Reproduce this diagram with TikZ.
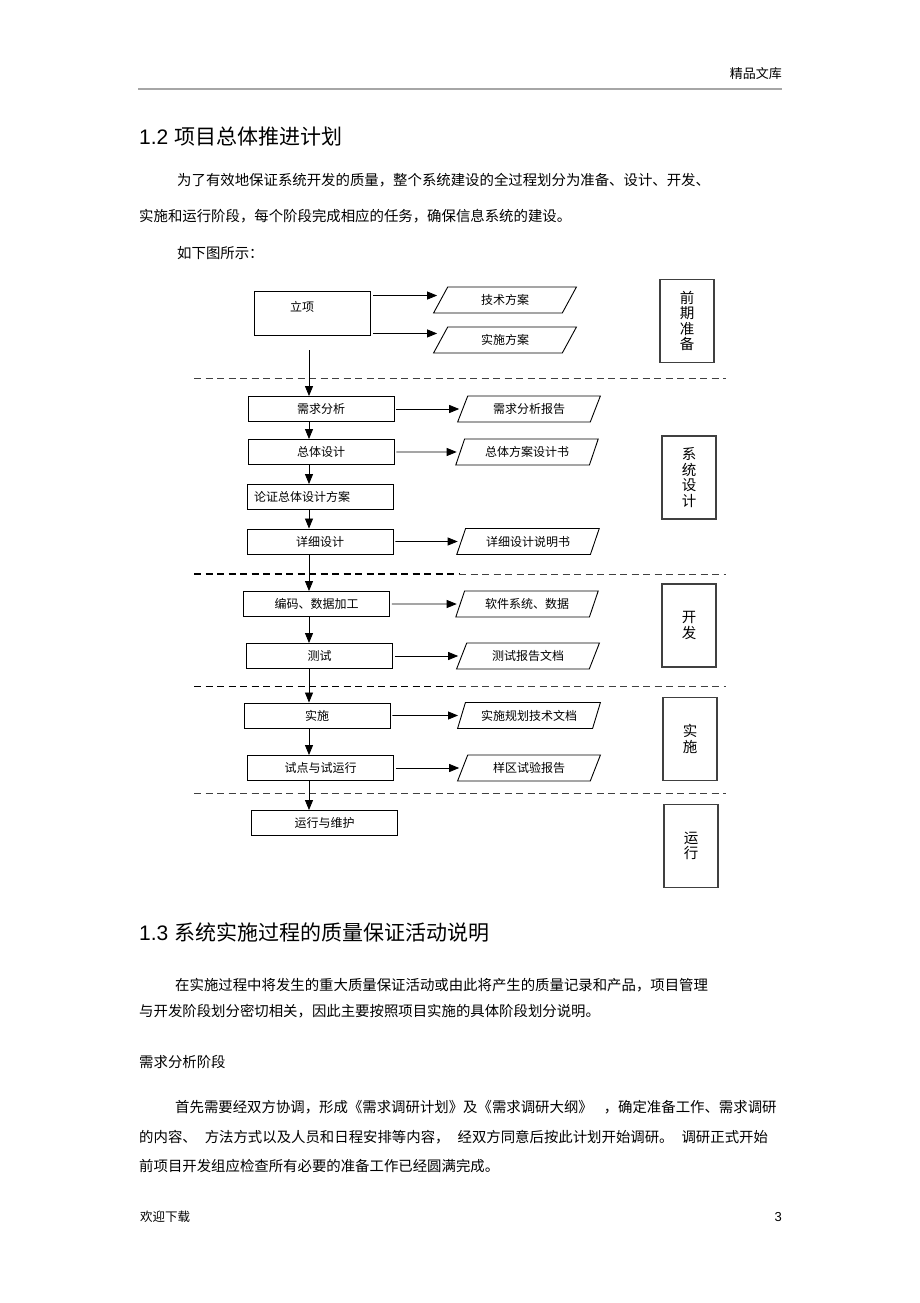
\documentclass[tikz,border=0pt]{standalone}
\usepackage{fontspec}
\newfontfamily\cjk{Noto Sans CJK SC}
\newfontfamily\arialf{Liberation Sans}
\usetikzlibrary{arrows.meta,shapes.geometric}

\begin{document}
\begin{tikzpicture}[x=1pt, y=-1pt, font=\cjk,
  stepbox/.style={draw, line width=0.9pt, minimum width=146, minimum height=25, inner sep=0, font=\cjk\fontsize{12}{14}\selectfont},
  docbox/.style={draw, line width=0.9pt, trapezium, trapezium left angle=62, trapezium right angle=118, trapezium stretches=true, minimum width=143, minimum height=26, inner sep=0, font=\cjk\fontsize{12}{14}\selectfont},
  stagebox/.style={draw=black!75, line width=1.1pt, minimum width=54, minimum height=83, inner sep=0, align=center, font=\cjk\fontsize{14.5}{15.5}\selectfont},
  flow/.style={-{Triangle[length=10pt,width=8pt]}, line width=0.8pt},
  phase/.style={dash pattern=on 7pt off 4.5pt},
  para/.style={anchor=west, inner sep=0, font=\cjk\fontsize{14.4}{17}\selectfont},
  heading/.style={anchor=west, inner sep=0, font=\cjk\fontsize{21}{25}\selectfont}]

\useasboundingbox[fill=white] (0,0) rectangle (920,1303);

% page head
\node[anchor=east, inner sep=0, font=\cjk\fontsize{13}{15}\selectfont] (head) at (782,74) {精品文库};
\draw[gray!70, line width=2.5pt] (138,89) -- (782,89);

\node[heading] (sec12) at (139,137) {{\arialf 1.2}\hspace{6pt}项目总体推进计划};
\node[para] (p1) at (177,180) {为了有效地保证系统开发的质量，整个系统建设的全过程划分为准备、设计、开发、};
\node[para] (p2) at (139,216) {实施和运行阶段，每个阶段完成相应的任务，确保信息系统的建设。};
\node[para] (p3) at (177,253) {如下图所示：};

% phase separators
\coordinate (spine) at (309,0);
\foreach \y in {378,793.5}
    \draw[phase, line width=0.8pt, black!75] (194,\y) -- (726,\y);
\foreach \y in {574,686.5} {
    \draw[phase, line width=1.6pt] (194,\y) -- (459,\y);
    \draw[phase, line width=0.8pt, black!75] (459,\y) -- (726,\y);
}

% 前期准备
\node[stepbox, minimum width=116, minimum height=44] (lixiang) at (312,313) {};
\node[inner sep=0, font=\cjk\fontsize{12}{14}\selectfont] (lixiangtext) at (302,307) {立项};
\node[docbox] (jsfa) at (505,300) {技术方案};
\node[docbox] (ssfa) at (505,340) {实施方案};
\coordinate (lx1) at ([yshift=-5]lixiang.north east);
\coordinate (lx2) at ([yshift=2]lixiang.south east);
\draw[flow, shorten <=3pt, shorten >=3pt] (lx1) -- (lx1 -| jsfa.west);
\draw[flow, shorten <=3pt, shorten >=3pt] (lx2) -- (lx2 -| ssfa.west);
\node[stagebox] (qqzb) at (687,321) {前\\期\\准\\备};

% 系统设计
\node[stepbox] (xqfx) at (321,409) {需求分析};
\node[stepbox] (ztsj) at (321,452) {总体设计};
\node[stepbox, text width=132, align=left, inner xsep=7] (lzfa) at (320,497) {论证总体设计方案};
\node[stepbox] (xxsj) at (320,541.5) {详细设计};
\node[docbox] (xqbg) at (529,409) {需求分析报告};
\node[docbox] (ztsm) at (527,452) {总体方案设计书};
\node[docbox] (xxsm) at (528,541.5) {详细设计说明书};
\node[stagebox] (xtsj) at (689,477.5) {系\\统\\设\\计};

% 开发
\node[stepbox] (bmjg) at (316.5,604) {编码、数据加工};
\node[stepbox] (cs) at (319.5,656) {测试};
\node[docbox] (rjxt) at (527,604) {软件系统、数据};
\node[docbox] (csbg) at (528,656) {测试报告文档};
\node[stagebox] (kf) at (689,625.5) {开\\发};

% 实施
\node[stepbox] (ss) at (317,715.5) {实施};
\node[stepbox] (sd) at (320.5,768) {试点与试运行};
\node[docbox] (ssgh) at (529,715.5) {实施规划技术文档};
\node[docbox] (yqbg) at (529,768) {样区试验报告};
\node[stagebox] (sszj) at (690,739) {实\\施};

% 运行
\node[stepbox] (yxwh) at (324.5,823) {运行与维护};
\node[stagebox] (yx) at (691,846) {运\\行};

\draw[flow, shorten <=15pt] (lixiang.south -| spine) -- (xqfx.north -| spine);
\foreach \a/\b in {xqfx/ztsj, ztsj/lzfa, lzfa/xxsj, xxsj/bmjg, bmjg/cs, cs/ss, ss/sd, sd/yxwh}
    \draw[flow] (\a.south -| spine) -- (\b.north -| spine);
\foreach \a/\b in {xqfx/xqbg, ztsj/ztsm, xxsj/xxsm, bmjg/rjxt, cs/csbg, ss/ssgh, sd/yqbg}
    \draw[flow, shorten <=2pt, shorten >=3pt] (\a.east) -- (\b.west);

\node[heading] (sec13) at (139,933) {{\arialf 1.3}\hspace{6pt}系统实施过程的质量保证活动说明};
\node[para] (q1) at (175,985) {在实施过程中将发生的重大质量保证活动或由此将产生的质量记录和产品，项目管理};
\node[para] (q2) at (139,1011) {与开发阶段划分密切相关，因此主要按照项目实施的具体阶段划分说明。};
\node[para] (xqjd) at (139,1062) {需求分析阶段};
\node[para] (r1) at (175,1107) {首先需要经双方协调，形成《需求调研计划》及《需求调研大纲》\hspace{11pt}，确定准备工作、需求调研};
\node[para] (r2) at (139,1137) {的内容、\hspace{8pt}方法方式以及人员和日程安排等内容，\hspace{8pt}经双方同意后按此计划开始调研。\hspace{8pt}调研正式开始};
\node[para] (r3) at (139,1166) {前项目开发组应检查所有必要的准备工作已经圆满完成。};

% page foot
\node[anchor=west, inner sep=0, font=\cjk\fontsize{12.5}{15}\selectfont] (foot) at (140,1217) {欢迎下载};
\node[anchor=east, inner sep=0, font=\arialf\fontsize{13}{15}\selectfont] (pageno) at (782,1217) {3};
\end{tikzpicture}
\end{document}
